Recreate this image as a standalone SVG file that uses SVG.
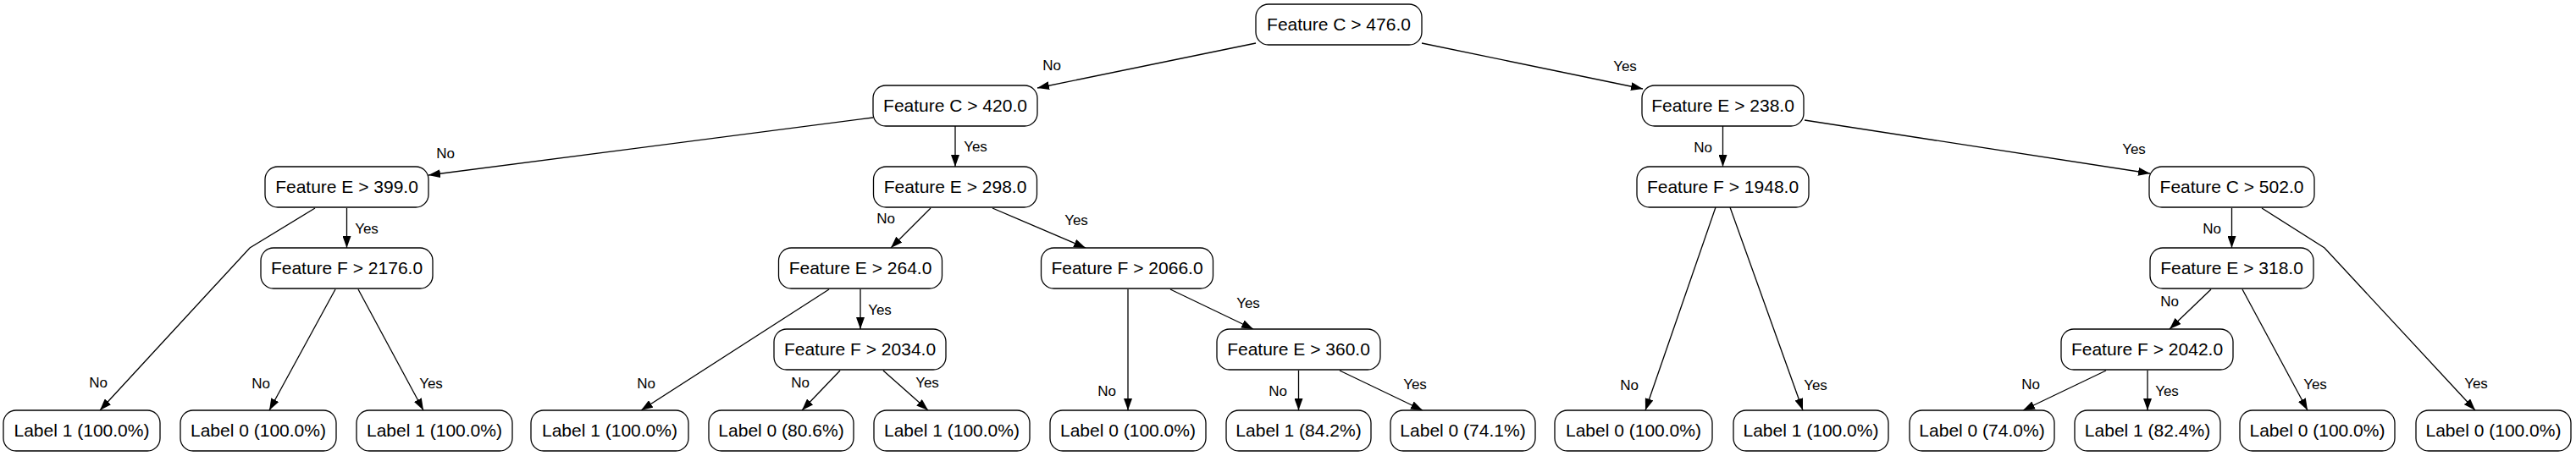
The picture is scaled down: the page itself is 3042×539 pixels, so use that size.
<svg xmlns="http://www.w3.org/2000/svg" width="3042" height="539" viewBox="0 0 3042 539">
<style>
.n rect{fill:#fff;stroke:#000;stroke-width:1.3}
.n text{font-family:"Liberation Sans",Arial,sans-serif;font-size:21px;fill:#000;text-anchor:middle}
.e path{fill:none;stroke:#000;stroke-width:1.3;marker-end:url(#arr)}
.e text{font-family:"Liberation Sans",Arial,sans-serif;font-size:17px;fill:#000;text-anchor:middle}
</style>
<defs>
<marker id="arr" markerWidth="14" markerHeight="10" refX="14" refY="5" orient="auto" markerUnits="userSpaceOnUse"><path d="M0,0 L14,5 L0,10 z" fill="#000"/></marker>
</defs>
<rect width="3042" height="539" fill="#fff"/>
<g id="connectors" class="e">
<path d="M1483,51 L1225,104"/><text x="1242" y="83">No</text>
<path d="M1679,51 L1940,105"/><text x="1919" y="84">Yes</text>
<path d="M1031,139 L506,207"/><text x="526" y="187">No</text>
<path d="M1128,149 L1128,197"/><text x="1152" y="179">Yes</text>
<path d="M2034.5,149 L2034.5,197"/><text x="2011" y="180">No</text>
<path d="M2131,142 L2539,205"/><text x="2520" y="182">Yes</text>
<path d="M372,246 L295,293 L118,485"/><text x="116" y="458">No</text>
<path d="M409.5,246 L409.5,293"/><text x="433" y="276">Yes</text>
<path d="M1099,246 L1052,293"/><text x="1046" y="264">No</text>
<path d="M1172,246 L1282,293"/><text x="1271" y="266">Yes</text>
<path d="M2026,245 L1943,485"/><text x="1924" y="461">No</text>
<path d="M2043,245 L2129,485"/><text x="2144" y="461">Yes</text>
<path d="M2635.5,246 L2635.5,293"/><text x="2612" y="276">No</text>
<path d="M2671,246 L2745,293 L2923,485"/><text x="2924" y="459">Yes</text>
<path d="M396,342 L318,485"/><text x="308" y="459">No</text>
<path d="M423,342 L500,485"/><text x="509" y="459">Yes</text>
<path d="M979,342 L757,485"/><text x="763" y="459">No</text>
<path d="M1016,342 L1016,389"/><text x="1039" y="372">Yes</text>
<path d="M1332,342 L1332,485"/><text x="1307" y="468">No</text>
<path d="M1382,342 L1480,389"/><text x="1474" y="364">Yes</text>
<path d="M2611,342 L2562,389"/><text x="2562" y="362">No</text>
<path d="M2648,342 L2725,485"/><text x="2734" y="460">Yes</text>
<path d="M992,438 L947,485"/><text x="945" y="458">No</text>
<path d="M1043,438 L1096,485"/><text x="1095" y="458">Yes</text>
<path d="M1533.5,438 L1533.5,485"/><text x="1509" y="468">No</text>
<path d="M1582,438 L1680,485"/><text x="1671" y="460">Yes</text>
<path d="M2487,438 L2389,485"/><text x="2398" y="460">No</text>
<path d="M2536,438 L2536,485"/><text x="2559" y="468">Yes</text>
</g>
<g id="n_root" class="n"><rect x="1483" y="5" width="196" height="48" rx="15"/><text x="1581" y="36">Feature C &gt; 476.0</text></g>
<g id="n_c420" class="n"><rect x="1031" y="101" width="194" height="48" rx="15"/><text x="1128" y="132">Feature C &gt; 420.0</text></g>
<g id="n_e238" class="n"><rect x="1939" y="101" width="191" height="48" rx="15"/><text x="2034.5" y="132">Feature E &gt; 238.0</text></g>
<g id="n_e399" class="n"><rect x="313" y="197" width="193" height="48" rx="15"/><text x="409.5" y="228">Feature E &gt; 399.0</text></g>
<g id="n_e298" class="n"><rect x="1031.5" y="197" width="193" height="48" rx="15"/><text x="1128" y="228">Feature E &gt; 298.0</text></g>
<g id="n_f1948" class="n"><rect x="1933" y="197" width="203" height="48" rx="15"/><text x="2034.5" y="228">Feature F &gt; 1948.0</text></g>
<g id="n_c502" class="n"><rect x="2538" y="197" width="195" height="48" rx="15"/><text x="2635.5" y="228">Feature C &gt; 502.0</text></g>
<g id="n_f2176" class="n"><rect x="308" y="293" width="203" height="48" rx="15"/><text x="409.5" y="324">Feature F &gt; 2176.0</text></g>
<g id="n_e264" class="n"><rect x="919.5" y="293" width="193" height="48" rx="15"/><text x="1016" y="324">Feature E &gt; 264.0</text></g>
<g id="n_f2066" class="n"><rect x="1229.5" y="293" width="203" height="48" rx="15"/><text x="1331" y="324">Feature F &gt; 2066.0</text></g>
<g id="n_e318" class="n"><rect x="2539" y="293" width="193" height="48" rx="15"/><text x="2635.5" y="324">Feature E &gt; 318.0</text></g>
<g id="n_f2034" class="n"><rect x="914" y="389" width="203" height="48" rx="15"/><text x="1015.5" y="420">Feature F &gt; 2034.0</text></g>
<g id="n_e360" class="n"><rect x="1437" y="389" width="193" height="48" rx="15"/><text x="1533.5" y="420">Feature E &gt; 360.0</text></g>
<g id="n_f2042" class="n"><rect x="2434" y="389" width="203" height="48" rx="15"/><text x="2535.5" y="420">Feature F &gt; 2042.0</text></g>
<g id="leaf1" class="n"><rect x="4" y="485" width="185" height="48" rx="15"/><text x="96.5" y="516">Label 1 (100.0%)</text></g>
<g id="leaf2" class="n"><rect x="213" y="485" width="184" height="48" rx="15"/><text x="305" y="516">Label 0 (100.0%)</text></g>
<g id="leaf3" class="n"><rect x="421" y="485" width="184" height="48" rx="15"/><text x="513" y="516">Label 1 (100.0%)</text></g>
<g id="leaf4" class="n"><rect x="627" y="485" width="186" height="48" rx="15"/><text x="720" y="516">Label 1 (100.0%)</text></g>
<g id="leaf5" class="n"><rect x="837" y="485" width="171" height="48" rx="15"/><text x="922.5" y="516">Label 0 (80.6%)</text></g>
<g id="leaf6" class="n"><rect x="1032" y="485" width="184" height="48" rx="15"/><text x="1124" y="516">Label 1 (100.0%)</text></g>
<g id="leaf7" class="n"><rect x="1240" y="485" width="184" height="48" rx="15"/><text x="1332" y="516">Label 0 (100.0%)</text></g>
<g id="leaf8" class="n"><rect x="1448" y="485" width="171" height="48" rx="15"/><text x="1533.5" y="516">Label 1 (84.2%)</text></g>
<g id="leaf9" class="n"><rect x="1642" y="485" width="171" height="48" rx="15"/><text x="1727.5" y="516">Label 0 (74.1%)</text></g>
<g id="leaf10" class="n"><rect x="1836" y="485" width="186" height="48" rx="15"/><text x="1929" y="516">Label 0 (100.0%)</text></g>
<g id="leaf11" class="n"><rect x="2047" y="485" width="183" height="48" rx="15"/><text x="2138.5" y="516">Label 1 (100.0%)</text></g>
<g id="leaf12" class="n"><rect x="2255" y="485" width="171" height="48" rx="15"/><text x="2340.5" y="516">Label 0 (74.0%)</text></g>
<g id="leaf13" class="n"><rect x="2450" y="485" width="172" height="48" rx="15"/><text x="2536" y="516">Label 1 (82.4%)</text></g>
<g id="leaf14" class="n"><rect x="2645" y="485" width="183" height="48" rx="15"/><text x="2736.5" y="516">Label 0 (100.0%)</text></g>
<g id="leaf15" class="n"><rect x="2853" y="485" width="183" height="48" rx="15"/><text x="2944.5" y="516">Label 0 (100.0%)</text></g>
</svg>
